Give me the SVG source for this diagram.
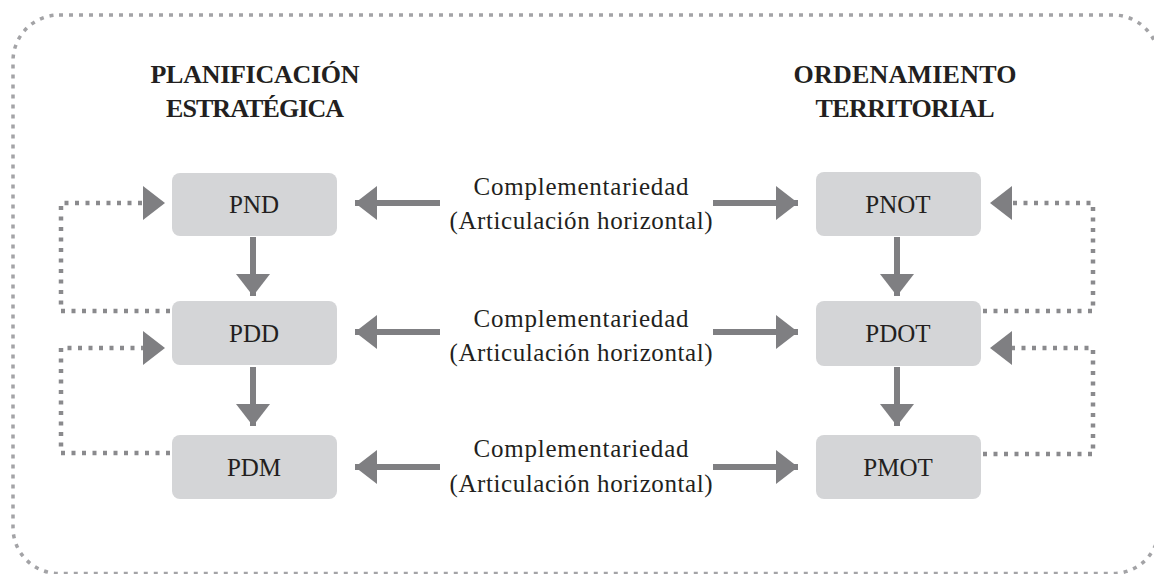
<svg xmlns="http://www.w3.org/2000/svg" width="1154" height="574" viewBox="0 0 1154 574">
<style>
.box{fill:#d4d5d7;}
.lbl{font-family:"Liberation Serif",serif;font-size:25px;fill:#231f20;text-anchor:middle;}
.head{font-family:"Liberation Serif",serif;font-size:26px;font-weight:bold;fill:#231f20;text-anchor:middle;}
.cap{font-family:"Liberation Serif",serif;font-size:25px;fill:#231f20;text-anchor:middle;}
.arr{fill:none;stroke:#7f7f82;stroke-width:6;}
.dot{fill:none;stroke:#8a8a8d;stroke-width:4.5;stroke-dasharray:4 6.5;}
</style>
<defs>
<clipPath id="view"><rect x="0" y="0" width="1154" height="574"/></clipPath>
<marker id="ah" markerUnits="userSpaceOnUse" markerWidth="23" markerHeight="34" refX="22" refY="17" orient="auto">
<path d="M0,0 L22,17 L0,34 Z" fill="#7f7f82"/>
</marker>
<marker id="dh" markerUnits="userSpaceOnUse" markerWidth="23" markerHeight="34" refX="0" refY="17" orient="auto">
<path d="M0,0 L22,17 L0,34 Z" fill="#7f7f82"/>
</marker>
</defs>
<g clip-path="url(#view)">
<rect x="13" y="15" width="1146" height="558.5" rx="46" fill="none" stroke="#a3a3a6" stroke-width="3.5" stroke-dasharray="4 6"/>
</g>
<g id="headings">
<text class="head" x="255" y="83" textLength="209" lengthAdjust="spacing">PLANIFICACIÓN</text>
<text class="head" x="255" y="117" textLength="178" lengthAdjust="spacing">ESTRATÉGICA</text>
<text class="head" x="905" y="83" textLength="223" lengthAdjust="spacing">ORDENAMIENTO</text>
<text class="head" x="905" y="117" textLength="179" lengthAdjust="spacing">TERRITORIAL</text>
</g>
<g id="connectors">
<line class="arr" x1="440" y1="203" x2="355" y2="203" marker-end="url(#ah)"/>
<line class="arr" x1="713" y1="203" x2="798" y2="203" marker-end="url(#ah)"/>
<line class="arr" x1="440" y1="332" x2="355" y2="332" marker-end="url(#ah)"/>
<line class="arr" x1="713" y1="332" x2="798" y2="332" marker-end="url(#ah)"/>
<line class="arr" x1="440" y1="467" x2="355" y2="467" marker-end="url(#ah)"/>
<line class="arr" x1="713" y1="467" x2="798" y2="467" marker-end="url(#ah)"/>
<line class="arr" x1="253" y1="237" x2="253" y2="296" marker-end="url(#ah)"/>
<line class="arr" x1="253" y1="367" x2="253" y2="426" marker-end="url(#ah)"/>
<line class="arr" x1="897" y1="237" x2="897" y2="296" marker-end="url(#ah)"/>
<line class="arr" x1="897" y1="367" x2="897" y2="426" marker-end="url(#ah)"/>
<path class="dot" d="M170,311 H61 V203 H143" marker-end="url(#dh)"/>
<path class="dot" d="M170,453 H61 V348 H143" marker-end="url(#dh)"/>
<path class="dot" d="M983,311 H1093 V203 H1012" marker-end="url(#dh)"/>
<path class="dot" d="M983,454 H1093 V348 H1012" marker-end="url(#dh)"/>
<text class="cap" x="581" y="195" textLength="215" lengthAdjust="spacing">Complementariedad</text>
<text class="cap" x="581" y="229" textLength="263" lengthAdjust="spacing">(Articulación horizontal)</text>
<text class="cap" x="581" y="327" textLength="215" lengthAdjust="spacing">Complementariedad</text>
<text class="cap" x="581" y="361" textLength="263" lengthAdjust="spacing">(Articulación horizontal)</text>
<text class="cap" x="581" y="457" textLength="215" lengthAdjust="spacing">Complementariedad</text>
<text class="cap" x="581" y="492" textLength="263" lengthAdjust="spacing">(Articulación horizontal)</text>
</g>
<g id="PND"><rect class="box" x="172" y="173" width="165" height="63" rx="8"/><text class="lbl" x="254" y="213">PND</text></g>
<g id="PDD"><rect class="box" x="172" y="301" width="165" height="64" rx="8"/><text class="lbl" x="254" y="342">PDD</text></g>
<g id="PDM"><rect class="box" x="172" y="435" width="165" height="64" rx="8"/><text class="lbl" x="254" y="476">PDM</text></g>
<g id="PNOT"><rect class="box" x="816" y="172" width="165" height="64" rx="8"/><text class="lbl" x="898" y="213">PNOT</text></g>
<g id="PDOT"><rect class="box" x="816" y="301" width="165" height="65" rx="8"/><text class="lbl" x="898" y="342">PDOT</text></g>
<g id="PMOT"><rect class="box" x="816" y="435" width="165" height="64" rx="8"/><text class="lbl" x="898" y="476">PMOT</text></g>
</svg>
